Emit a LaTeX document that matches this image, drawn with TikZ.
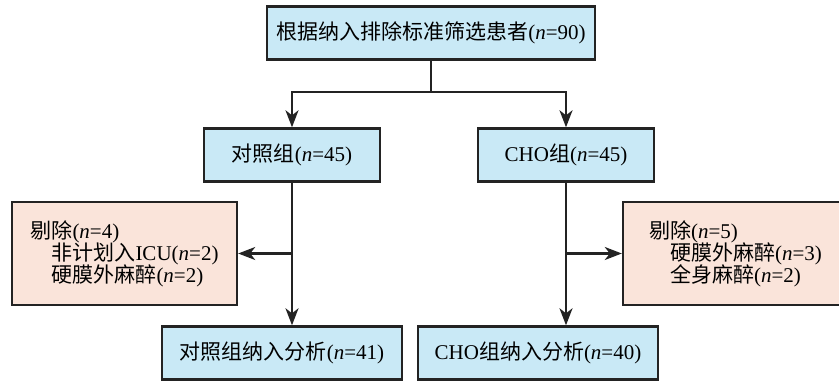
\documentclass[tikz,border=0pt]{standalone}
\usepackage{fontspec}
\setmainfont{Liberation Serif}
\newfontfamily\cjk{Noto Sans CJK SC}
\usetikzlibrary{arrows.meta,positioning,calc}
\definecolor{boxblue}{RGB}{201,233,246}
\definecolor{boxpink}{RGB}{250,228,218}
\definecolor{linegray}{RGB}{35,35,35}
\newcommand{\nn}[1]{(\textit{n}=#1)}
\newcommand{\tightlines}{\fontsize{21}{22}\selectfont\setlength{\lineskiplimit}{-20pt}}

\begin{document}
\begin{tikzpicture}[x=1pt,y=-1pt,
    bluebox/.style={draw=linegray, line width=2.4pt, fill=boxblue, minimum height=53pt, inner sep=0pt, font=\fontsize{21}{21}\selectfont},
    pinkbox/.style={draw=linegray, line width=2.4pt, fill=boxpink, minimum width=225pt, minimum height=103pt, inner sep=0pt, align=left, font=\tightlines},
    flow/.style={linegray, line width=2.2pt, -{Stealth[length=17pt,width=13pt,inset=5pt]}}]
  \useasboundingbox (0,0) rectangle (839,382);

  % Screening
  \node[bluebox, minimum width=328pt] (top) at (431,33) {{\cjk 根据纳入排除标准筛选患者}\nn{90}};

  % Groups
  \node[bluebox, minimum width=176pt] (ctrl) at (292,155) {{\cjk 对照组}\nn{45}};
  \node[bluebox, minimum width=176pt] (cho) at (566,155) {CHO{\cjk 组}\nn{45}};

  % Exclusions
  \node[pinkbox] (exL) at (124.5,253.5) {{\cjk 剔除}\nn{4}\\
    \hspace*{1em}{\cjk 非计划入}ICU\nn{2}\\
    \hspace*{1em}{\cjk 硬膜外麻醉}\nn{2}};
  \node[pinkbox] (exR) at (735.5,253.5) {{\cjk 剔除}\nn{5}\\
    \hspace*{1em}{\cjk 硬膜外麻醉}\nn{3}\\
    \hspace*{1em}{\cjk 全身麻醉}\nn{2}};

  % Analysis
  \node[bluebox, minimum width=240pt] (anaL) at (282,353) {{\cjk 对照组纳入分析}\nn{41}};
  \node[bluebox, minimum width=240pt] (anaR) at (538,353) {CHO{\cjk 组纳入分析}\nn{40}};

  % Arrows
  \coordinate (split) at (431,92);
  \draw[linegray, line width=2.2pt] (top.south) -- (split);
  \draw[flow] (split) -| (ctrl.north);
  \draw[flow] (split) -| (cho.north);
  \draw[flow] (ctrl.south |- exL.east) -- (exL.east);
  \draw[flow] (cho.south |- exR.west) -- (exR.west);
  \draw[flow] (ctrl.south) -- (ctrl.south |- anaL.north);
  \draw[flow] (cho.south) -- (cho.south |- anaR.north);
\end{tikzpicture}
\end{document}
